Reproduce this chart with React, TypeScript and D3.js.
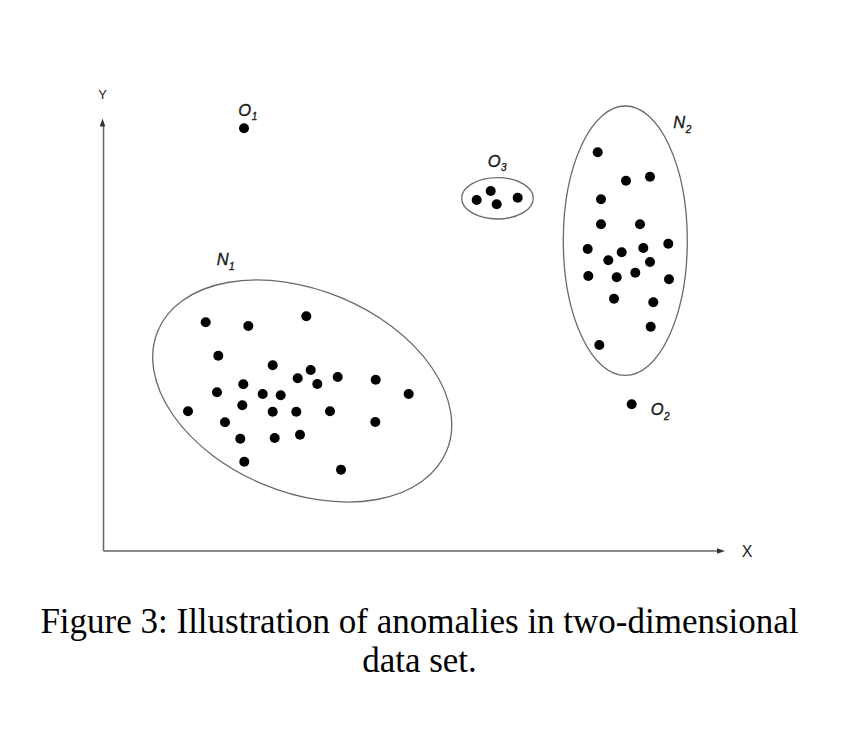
import React from "react";
import * as d3 from "d3";

// Data coordinates (arbitrary feature units)
const n1Points: [number, number][] = [
  [102.2, 228.7], [144.8, 225], [202.8, 234.7], [114.8, 195.3], [169.2, 185.7],
  [207.2, 181], [194.2, 172.7], [213.8, 167], [234.2, 174], [272.2, 171.3],
  [305.2, 157], [139.8, 166.7], [113.5, 158.7], [159.2, 157], [177.2, 155.7],
  [84.5, 139.7], [138.8, 145.7], [169.2, 139.3], [192.8, 139.3], [226.5, 139.7],
  [271.8, 129], [121.5, 128.7], [136.8, 112.3], [171.2, 113], [196.5, 116.3],
  [140.8, 89.3], [237.5, 81.3],
];
const n2Points: [number, number][] = [
  [494.2, 398.7], [522.5, 370.3], [546.5, 374.3], [497.5, 351.7], [497.5, 326.7],
  [536.5, 326.7], [484.2, 302], [518.2, 298.7], [539.8, 303], [564.8, 307.3],
  [504.8, 290.7], [546.5, 289], [484.8, 275], [513.2, 273.7], [531.8, 278.3],
  [565.5, 271.7], [510.5, 252.3], [549.8, 248.7], [547.2, 224.3], [495.8, 206],
];
const o3Points: [number, number][] = [
  [387.2, 360], [373.2, 351], [393.2, 346.7], [414.2, 353.3],
];
const o1Points: [number, number][] = [[140.5, 422.7]];
const o2Points: [number, number][] = [[528.2, 146.7]];

// Region outlines: center x, center y, semi-axis x, semi-axis y, rotation (deg)
const regionNames = ["N1", "N2", "O3"];
const regionCx = [198.7, 521.8, 394];
const regionCy = [160, 310.3, 352.7];
const regionRx = [156.4, 62, 35.8];
const regionRy = [101.1, 134.7, 20.7];
const regionRot = [22.6, 0, 0];

// Labels: base letter, subscript, anchor x, baseline y
const labelMain = ["O", "O", "O", "N", "N"];
const labelSub = ["1", "3", "2", "1", "2"];
const labelX = [134.8, 384.2, 547.2, 113.2, 569.8];
const labelY = [435.3, 384.3, 136, 286, 422.7];

const axisXTitle = "X";
const axisYTitle = "Y";
const captionLines = [
  "Figure 3: Illustration of anomalies in two-dimensional",
  "data set.",
];

export default function App() {
  const W = 856;
  const H = 736;
  const x = d3.scaleLinear().domain([0, 621.5]).range([103.5, 725]);
  const y = d3.scaleLinear().domain([0, 432.5]).range([551, 118.5]);
  const allPoints = [...n1Points, ...n2Points, ...o3Points, ...o1Points, ...o2Points];
  const axisColor = "#666";
  const x0 = x(0), y0 = y(0), x1 = x(621.5), y1 = y(432.5);

  return (
    <svg
      width={W}
      height={H}
      style={{ position: "absolute", left: 0, top: 0, background: "#fff" }}
      fontFamily="'Liberation Sans', Arial, sans-serif"
    >
      <rect width={W} height={H} fill="#fff" />
      {/* axes */}
      <line x1={x0} y1={y0} x2={x1 - 6} y2={y0} stroke={axisColor} strokeWidth={1.5} />
      <line x1={x0} y1={y0} x2={x0} y2={y1 + 6} stroke={axisColor} strokeWidth={1.5} />
      <path d={`M${x1},${y0} L${x1 - 8},${y0 - 2.8} L${x1 - 8},${y0 + 2.8} Z`} fill="#333" />
      <path d={`M${x0 - 1},${y1} L${x0 - 3.8},${y1 + 8} L${x0 + 1.8},${y1 + 8} Z`} fill="#333" />
      <text x={x1 + 22} y={y0} fontSize={16} textAnchor="middle" dominantBaseline="central" fill="#222">
        {axisXTitle}
      </text>
      <text x={x0 - 1} y={y1 - 24} fontSize={13} textAnchor="middle" dominantBaseline="central" fill="#222">
        {axisYTitle}
      </text>

      {/* region ellipses */}
      {regionNames.map((n, i) => (
        <ellipse
          key={n}
          cx={x(regionCx[i])}
          cy={y(regionCy[i])}
          rx={x(regionRx[i]) - x(0)}
          ry={y(0) - y(regionRy[i])}
          transform={`rotate(${regionRot[i]} ${x(regionCx[i])} ${y(regionCy[i])})`}
          fill="none"
          stroke="#6a6a6a"
          strokeWidth={1.3}
        />
      ))}

      {/* points */}
      {allPoints.map((p, i) => (
        <circle key={i} cx={x(p[0])} cy={y(p[1])} r={5} fill="#000" />
      ))}

      {/* labels */}
      {labelMain.map((m, i) => (
        <text
          key={i}
          x={x(labelX[i])}
          y={y(labelY[i])}
          fontSize={16.5}
          fontStyle="italic"
          fill="#1a1a1a"
          stroke="#1a1a1a"
          strokeWidth={0.35}
        >
          {m}
          <tspan fontSize={10} dx={0.5} dy={4.5}>
            {labelSub[i]}
          </tspan>
        </text>
      ))}

      {/* caption */}
      {captionLines.map((t, i) => (
        <text
          key={i}
          x={419.5}
          y={633 + i * 38.5}
          fontSize={35}
          textAnchor="middle"
          fontFamily="'Liberation Serif', 'Times New Roman', serif"
          fill="#000"
        >
          {t}
        </text>
      ))}
    </svg>
  );
}
